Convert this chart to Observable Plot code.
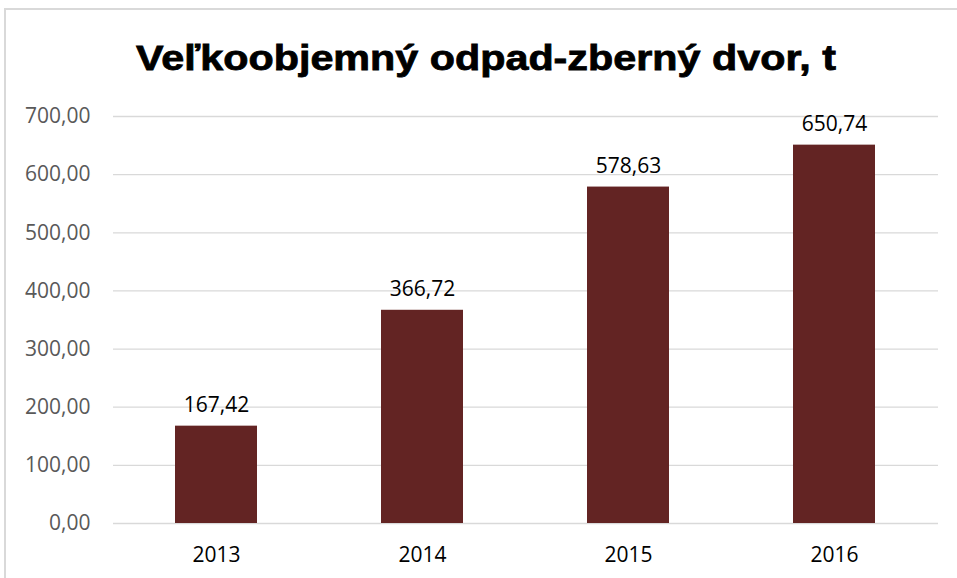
<!DOCTYPE html>
<html>
<head>
<meta charset="utf-8">
<script src="https://cdn.jsdelivr.net/npm/d3@7"></script>
<script src="https://cdn.jsdelivr.net/npm/@observablehq/plot@0.6"></script>
<style>
  html, body { margin: 0; padding: 0; background: #fff; overflow: hidden; }
  #wrap { position: relative; width: 957px; height: 578px; overflow: hidden; }
  #frame { position: absolute; left: 4px; top: 8px; width: 1000px; height: 700px; border: 2px solid #d9d9d9; box-sizing: border-box; }
  #title { position: absolute; left: 0; top: 0; width: 957px; height: 90px; }
  #title span { position: absolute; left: 486px; top: 40px; line-height: 35px; white-space: nowrap;
    font-family: "Liberation Sans", Arial, sans-serif; font-weight: bold; font-size: 35px; color: #000;
    -webkit-text-stroke: 0.8px #000; transform: translateX(-50%) scaleX(1.18); transform-origin: 50% 0; }
  #chart { position: absolute; left: 0; top: 90px; }
</style>
</head>
<body>
<div id="wrap">
  <div id="frame"></div>
  <div id="title"><span>Veľkoobjemný odpad-zberný dvor, t</span></div>
  <div id="chart"></div>
</div>
<script>
const years = ["2013", "2014", "2015", "2016"];
const values = [167.42, 366.72, 578.63, 650.74];
const yTicks = [0, 100, 200, 300, 400, 500, 600, 700];

const data = years.map((y, i) => ({year: y, value: values[i]}));
const fmt = d => d.toFixed(2).replace(".", ",");

const chart = Plot.plot({
  width: 957,
  height: 488,
  marginTop: 26,
  marginBottom: 55,
  marginLeft: 113,
  marginRight: 19,
  style: {fontFamily: "'Open Sans', sans-serif", fontSize: "21px", background: "transparent", overflow: "visible"},
  x: {domain: years, paddingInner: 0.6, paddingOuter: 0.3, label: null, tickSize: 0, tickPadding: 24},
  y: {domain: [0, 700], ticks: yTicks, tickFormat: fmt, label: null, tickSize: 0, tickPadding: 23},
  marks: [
    Plot.ruleY(yTicks, {stroke: "#d9d9d9", strokeWidth: 1.3}),
    Plot.barY(data, {x: "year", y: "value", fill: "#632423"}),
    Plot.text(data, {x: "year", y: "value", text: d => fmt(d.value), lineAnchor: "bottom", dy: -14, fill: "#000", fontSize: 21}),
    Plot.axisY({ticks: yTicks, tickFormat: fmt, tickSize: 0, tickPadding: 23, fill: "#595959", label: null}),
    Plot.axisX({tickSize: 0, tickPadding: 24, fill: "#000", label: null})
  ]
});
document.getElementById("chart").appendChild(chart);
</script>
</body>
</html>
